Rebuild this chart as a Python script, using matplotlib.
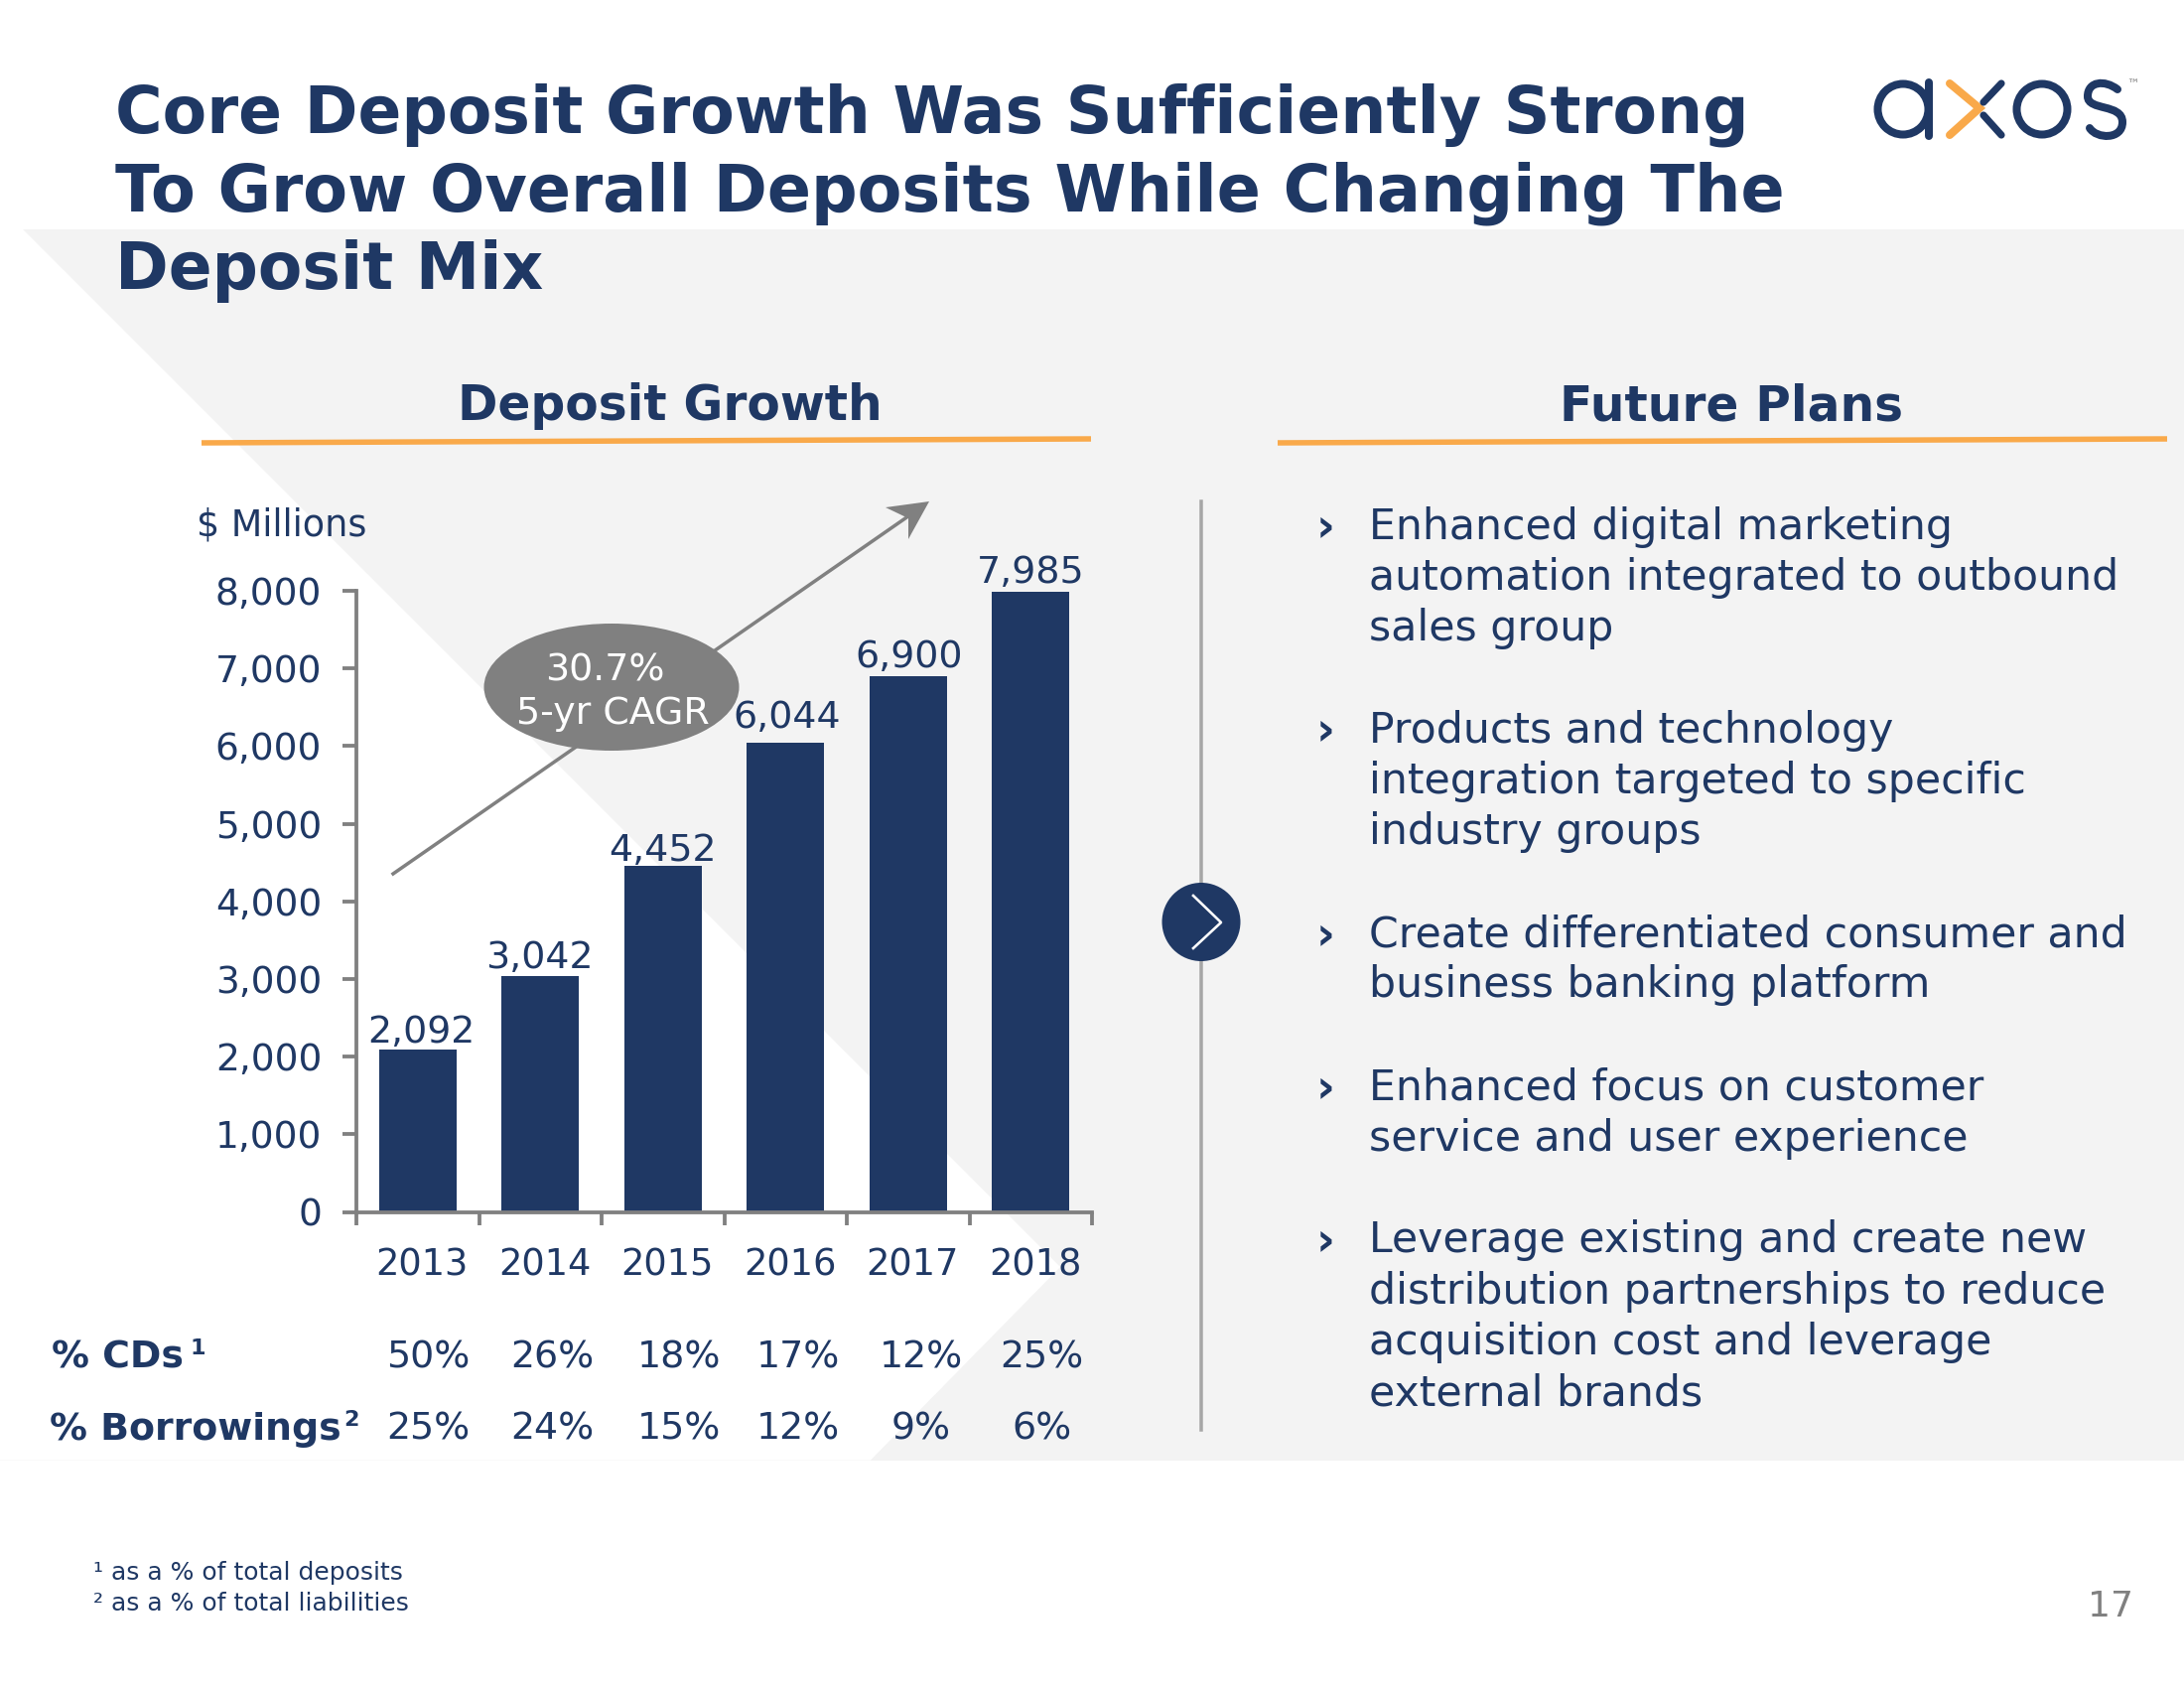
import matplotlib
matplotlib.use('Agg')
import matplotlib.pyplot as plt
from matplotlib.patches import Polygon, Rectangle, Ellipse, Circle, PathPatch
from matplotlib.path import Path
from matplotlib.ticker import FuncFormatter
from matplotlib.transforms import ScaledTranslation

W, H = 2200, 1700
NAVY = '#1F3864'
GRAY = '#808080'
ORANGE = '#F9A94A'
LIGHT = '#F3F3F3'
PX = 72 / 100  # points per pixel at dpi 100

years = ['2013', '2014', '2015', '2016', '2017', '2018']
deposits = [2092, 3042, 4452, 6044, 6900, 7985]
pct_cds = ['50%', '26%', '18%', '17%', '12%', '25%']
pct_borrowings = ['25%', '24%', '15%', '12%', '9%', '6%']
title_lines = ['Core Deposit Growth Was Sufficiently Strong',
               'To Grow Overall Deposits While Changing The',
               'Deposit Mix']
plans = [
    ['Enhanced digital marketing', 'automation integrated to outbound', 'sales group'],
    ['Products and technology', 'integration targeted to specific', 'industry groups'],
    ['Create differentiated consumer and', 'business banking platform'],
    ['Enhanced focus on customer', 'service and user experience'],
    ['Leverage existing and create new', 'distribution partnerships to reduce',
     'acquisition cost and leverage', 'external brands'],
]

plt.rcParams['font.family'] = ['DejaVu Sans']
fig = plt.figure(figsize=(W / 100, H / 100), dpi=100, facecolor='white')


def pixel_axes(zorder):
    a = fig.add_axes([0, 0, 1, 1], zorder=zorder)
    a.set_xlim(0, W)
    a.set_ylim(H, 0)
    a.axis('off')
    return a


bg = pixel_axes(0)
top = pixel_axes(2)

# background band with the white wedge cut out of it
bg.add_patch(Rectangle((0, 231), W, 1239.5, color=LIGHT, lw=0))
bg.add_patch(Polygon([(0, 231), (23, 231), (1068, 1276), (877, 1470.5), (0, 1470.5)],
                     color='white', lw=0))

title_sizes = [46.7, 47, 46.6]
for i, line in enumerate(title_lines):
    bg.text(116, 133.5 + i * 78.5, line, color=NAVY, fontsize=title_sizes[i], fontweight='bold',
            va='baseline', ha='left')

# section headers
bg.text(675, 423, 'Deposit Growth', color=NAVY, fontsize=35, fontweight='bold',
        ha='center', va='baseline')
bg.text(1744, 423, 'Future Plans', color=NAVY, fontsize=35, fontweight='bold',
        ha='center', va='baseline')
bg.plot([203, 1099], [446, 442], color=ORANGE, lw=5.5 * PX, solid_capstyle='butt')
bg.plot([1287, 2183], [446, 442], color=ORANGE, lw=5.5 * PX, solid_capstyle='butt')

# divider
bg.plot([1210, 1210], [505, 1440], color='#A6A6A6', lw=3.5 * PX)
bg.add_patch(Circle((1210, 928.5), 39.5, color=NAVY, lw=0, zorder=3))
bg.plot([1202, 1230, 1202], [902, 929, 955], color='white', lw=2.6 * PX, zorder=4)

# bar chart
ax = fig.add_axes([359 / W, 1 - 1220.5 / H, 741 / W, 625.5 / H], zorder=1)
ax.patch.set_alpha(0)
xs = range(len(years))
ax.bar(xs, deposits, width=0.63, color=NAVY)
ax.set_xlim(-0.5, 5.5)
ax.set_ylim(0, 8000)
ax.set_yticks(range(0, 8001, 1000))
ax.yaxis.set_major_formatter(FuncFormatter(lambda v, _: f'{v:,.0f}'))
ax.set_xticks(list(xs))
ax.set_xticklabels(years)
ax.set_xticks([x - 0.5 for x in range(7)], minor=True)
ax.tick_params(axis='x', which='major', length=0, pad=25, labelsize=26.5, labelcolor=NAVY)
ax.tick_params(axis='x', which='minor', length=13 * PX, width=3.8 * PX, color=GRAY)
ax.tick_params(axis='y', length=14 * PX, width=3.8 * PX, color=GRAY, pad=15,
               labelsize=27, labelcolor=NAVY)
for label in ax.get_xticklabels():
    label.set_transform(label.get_transform() + ScaledTranslation(0.045, 0, fig.dpi_scale_trans))
for side in ('top', 'right'):
    ax.spines[side].set_visible(False)
for side in ('left', 'bottom'):
    ax.spines[side].set_color(GRAY)
    ax.spines[side].set_linewidth(3.8 * PX)
label_dx = [2.5, -1, 0, 1, 0.5, 0]
label_dy = [-1, 0, -2, 5, 1, 0.5]
for x, v, dx, dy in zip(xs, deposits, label_dx, label_dy):
    ax.annotate(f'{v:,}', (x, v), xytext=(dx, dy), textcoords='offset points',
                ha='center', va='bottom', color=NAVY, fontsize=27.3)

top.text(198, 539.5, '$ Millions', color=NAVY, fontsize=26.3, va='baseline', ha='left')

# growth arrow and CAGR bubble
top.plot([396, 922], [880, 515], color=GRAY, lw=3.5 * PX)
top.add_patch(Polygon([(936, 505), (892, 511), (915, 522), (915, 543)], color=GRAY, lw=0))
top.add_patch(Ellipse((616, 692), 257, 128, color=GRAY, lw=0))
top.text(609, 675, '30.7%', color='white', fontsize=27.3, ha='center', va='center')
top.text(617, 719, '5-yr CAGR', color='white', fontsize=27.3, ha='center', va='center')

# rows under the chart
row_x = [431, 556, 684, 804, 928, 1049]
bg.text(52, 1378, '% CDs', color=NAVY, fontsize=27.3, fontweight='bold', va='baseline')
bg.text(192, 1364, '1', color=NAVY, fontsize=16, fontweight='bold', va='baseline')
bg.text(50, 1450, '% Borrowings', color=NAVY, fontsize=27.3, fontweight='bold', va='baseline')
bg.text(346, 1436, '2', color=NAVY, fontsize=16, fontweight='bold', va='baseline')
for x, a, b in zip(row_x, pct_cds, pct_borrowings):
    bg.text(x, 1378, a, color=NAVY, fontsize=27.3, ha='center', va='baseline')
    bg.text(x, 1450, b, color=NAVY, fontsize=27.3, ha='center', va='baseline')

# future plans list
first_baselines = [542.5, 747.5, 953, 1107.5, 1261.5]
for base, lines in zip(first_baselines, plans):
    bg.text(1326, base + 2, '›', color=NAVY, fontsize=33, fontweight='bold',
            ha='left', va='baseline')
    for i, line in enumerate(lines):
        bg.text(1379, base + i * 51.3, line, color=NAVY, fontsize=30.7, va='baseline')

# footnotes and page number
bg.text(94, 1591, '¹ as a % of total deposits', color=NAVY, fontsize=18, va='baseline')
bg.text(94, 1622, '² as a % of total liabilities', color=NAVY, fontsize=18, va='baseline')
bg.text(2126, 1618, '17', color=GRAY, fontsize=26, ha='center', va='center')

# logo
logo_lw = 8 * PX
bg.add_patch(Circle((1917, 110), 25.5, fill=False, ec=NAVY, lw=logo_lw))
bg.plot([1943, 1943], [83, 137], color=NAVY, lw=logo_lw, solid_capstyle='round')
bg.plot([1964, 1994, 1964], [84, 109, 136], color=ORANGE, lw=logo_lw,
        solid_capstyle='round', solid_joinstyle='miter')
bg.plot([2016, 1998], [84, 103], color=NAVY, lw=logo_lw * 0.9, solid_capstyle='round')
bg.plot([1998, 2016], [116, 136], color=NAVY, lw=logo_lw * 0.9, solid_capstyle='round')
bg.add_patch(Circle((2057, 110), 25.5, fill=False, ec=NAVY, lw=logo_lw))
s_path = Path([(2133, 90), (2120, 80), (2103, 82), (2103, 97), (2103, 112), (2138, 104),
               (2138, 123), (2138, 141), (2112, 140), (2105, 129)],
              [Path.MOVETO] + [Path.CURVE4] * 9)
bg.add_patch(PathPatch(s_path, fill=False, ec=NAVY, lw=logo_lw, capstyle='round'))
bg.text(2148, 85, '™', color=GRAY, fontsize=9, ha='center', va='center')

fig.savefig('out.png', dpi=100)
